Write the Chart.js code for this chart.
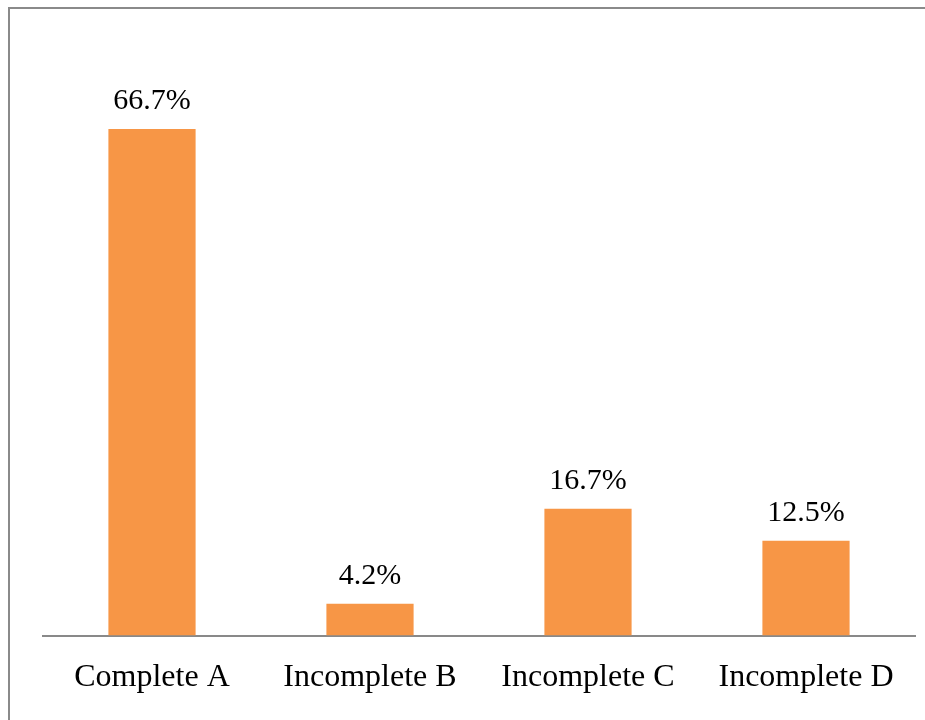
<!DOCTYPE html>
<html>
<head>
<meta charset="utf-8">
<script src="https://cdn.jsdelivr.net/npm/chart.js@4.4.1/dist/chart.umd.min.js"></script>
<style>
    html, body { margin: 0; padding: 0; background: #ffffff; }
    #wrap { width: 925px; height: 720px; position: relative; }
</style>
</head>
<body>
<div id="wrap"><canvas id="barChart" width="925" height="720"></canvas></div>
<script>
// --- Datos ---
const categorias = ['Complete A', 'Incomplete B', 'Incomplete C', 'Incomplete D'];
const porcentajes = [66.7, 4.2, 16.7, 12.5];

const fuente = "'Liberation Serif', 'Times New Roman', serif";
const colorBarra = '#F79646';
const colorEje = '#898989';

// Marco gris alrededor del gráfico
const marcoPlugin = {
    id: 'marco',
    beforeDraw(chart) {
        const ctx = chart.ctx;
        ctx.save();
        ctx.strokeStyle = '#8a8a8a';
        ctx.lineWidth = 2;
        ctx.strokeRect(9, 8, 1200, 1200);
        ctx.restore();
    }
};

// Etiquetas de valor encima de cada barra
const etiquetasPlugin = {
    id: 'etiquetas',
    afterDatasetsDraw(chart) {
        const ctx = chart.ctx;
        const meta = chart.getDatasetMeta(0);
        ctx.save();
        ctx.font = '30px ' + fuente;
        ctx.fillStyle = '#000000';
        ctx.textAlign = 'center';
        ctx.textBaseline = 'alphabetic';
        meta.data.forEach((barra, i) => {
            ctx.fillText(porcentajes[i].toFixed(1) + '%', barra.x, barra.y - 20);
        });
        ctx.restore();
    }
};

new Chart(document.getElementById('barChart').getContext('2d'), {
    type: 'bar',
    data: {
        labels: categorias,
        datasets: [{
            data: porcentajes,
            backgroundColor: colorBarra,
            borderWidth: 0,
            categoryPercentage: 1,
            barPercentage: 0.4
        }]
    },
    options: {
        responsive: false,
        animation: false,
        layout: { padding: { left: 43, right: 10, top: 28, bottom: 8 } },
        plugins: {
            legend: { display: false },
            tooltip: { enabled: false }
        },
        scales: {
            x: {
                grid: { display: false },
                border: { color: colorEje, width: 2 },
                ticks: { color: '#000000', padding: 15, font: { family: fuente, size: 32 } }
            },
            y: {
                display: false,
                min: 0,
                max: 80
            }
        }
    },
    plugins: [marcoPlugin, etiquetasPlugin]
});
</script>
</body>
</html>
